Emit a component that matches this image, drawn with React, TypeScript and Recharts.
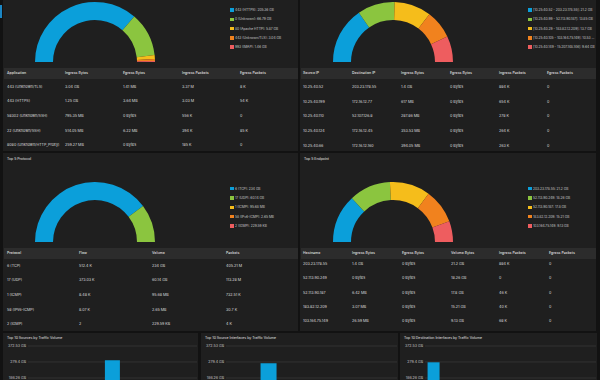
import React from "react";
import { PieChart, Pie, Cell, BarChart, Bar, XAxis, YAxis, CartesianGrid } from "recharts";

// ─── Data ─────────────────────────────────────────────────────────────────────

const SLICE_COLORS = ["#0b9fda", "#8bc53f", "#f5bd1b", "#f1821e", "#ee5d5f"];

// Top 5 Application (semi donut, GB)
const APP_NAMES = ["443 (HTTPS)", "0 (Unknown)", "80 (Apache HTTP)", "443 (Unknown/TLS)", "993 (IMAP)"];
const APP_GB = [205.36, 66.79, 5.87, 3.04, 1.46];
const APP_LABELS = ["205.36 GB", "66.79 GB", "5.87 GB", "3.04 GB", "1.46 GB"];

const APP_HEADERS = ["Application", "Ingress Bytes", "Egress Bytes", "Ingress Packets", "Egress Packets"];
const APP_ROWS = [
  ["443 (Unknown/TLS)", "3.04 GB", "1.41 MB", "3.37 M", "8 K"],
  ["443 (HTTPS)", "1.25 GB", "3.64 MB", "3.03 M", "54 K"],
  ["58302 (Unknown/SSH)", "795.35 MB", "0 Bytes", "556 K", "0"],
  ["22 (Unknown/SSH)", "514.05 MB", "6.22 MB", "394 K", "85 K"],
  ["8080 (Unknown/HTTP_Proxy)", "259.27 MB", "0 Bytes", "185 K", "0"],
];

// Top 5 Conversation
const CONV_NAMES = [
  "[10.25.40.52 - 203.23.178.55]",
  "[10.25.40.99 - 52.113.90.187]",
  "[10.25.40.29 - 183.82.12.209]",
  "[10.25.40.105 - 103.164.75.149]",
  "[10.25.40.149 - 15.207.148.146]",
];
const CONV_GB = [21.2, 13.85, 13.7, 10.53, 9.64];
const CONV_LABELS = ["21.2 GB", "13.85 GB", "13.7 GB", "10.53 GB", "9.64 GB"];

const CONV_HEADERS = ["Source IP", "Destination IP", "Ingress Bytes", "Egress Bytes", "Ingress Packets", "Egress Packets"];
const CONV_ROWS = [
  ["10.25.40.52", "203.23.178.55", "1.4 GB", "0 Bytes", "884 K", "0"],
  ["10.25.40.199", "172.16.12.77", "617 MB", "0 Bytes", "654 K", "0"],
  ["10.25.40.110", "52.107.126.8", "287.86 MB", "0 Bytes", "278 K", "0"],
  ["10.25.40.124", "172.16.12.45", "353.53 MB", "0 Bytes", "264 K", "0"],
  ["10.25.40.66", "172.16.12.160", "394.05 MB", "0 Bytes", "263 K", "0"],
];

// Top 5 Protocol
const PROTO_NAMES = ["6 (TCP)", "17 (UDP)", "1 (ICMP)", "58 (IPv6-ICMP)", "2 (IGMP)"];
const PROTO_GB = [234, 60.14, 0.09568, 0.00265, 0.00023];
const PROTO_LABELS = ["234 GB", "60.14 GB", "95.68 MB", "2.65 MB", "229.59 KB"];

const PROTO_HEADERS = ["Protocol", "Flow", "Volume", "Packets"];
const PROTO_ROWS = [
  ["6 (TCP)", "512.4 K", "234 GB", "405.21 M"],
  ["17 (UDP)", "373.03 K", "60.14 GB", "113.28 M"],
  ["1 (ICMP)", "8.48 K", "95.68 MB", "732.51 K"],
  ["58 (IPv6-ICMP)", "8.07 K", "2.65 MB", "30.7 K"],
  ["2 (IGMP)", "2", "229.59 KB", "4 K"],
];

// Top 5 Endpoint
const HOST_NAMES = ["203.23.178.55", "52.113.90.249", "52.113.90.187", "183.82.12.209", "103.164.75.149"];
const HOST_GB = [21.2, 18.26, 17.8, 15.21, 9.13];
const HOST_LABELS = ["21.2 GB", "18.26 GB", "17.8 GB", "15.21 GB", "9.13 GB"];

const HOST_HEADERS = ["Hostname", "Ingress Bytes", "Egress Bytes", "Volume Bytes", "Ingress Packets", "Egress Packets"];
const HOST_ROWS = [
  ["203.23.178.55", "1.4 GB", "0 Bytes", "21.2 GB", "884 K", "0"],
  ["52.113.90.249", "0 Bytes", "0 Bytes", "18.26 GB", "0", "0"],
  ["52.113.90.187", "6.42 MB", "0 Bytes", "17.8 GB", "46 K", "0"],
  ["183.82.12.209", "3.07 MB", "0 Bytes", "15.21 GB", "40 K", "0"],
  ["103.164.75.149", "26.59 MB", "0 Bytes", "9.13 GB", "68 K", "0"],
];

// Top 10 bar charts (GB)
const VOLUME_TICKS = [0, 93.13, 186.26, 279.4, 372.53];

const SRC_NAMES = ["10.25.40.52"];
const SRC_GB = [289.6];

const SRC_IF_NAMES = ["ifIndex 2", "ifIndex 1"];
const SRC_IF_GB = [272.3, 21.8];

const DST_IF_NAMES = ["if 3", "if 1", "if 4", "if 2", "if 6", "if 5", "if 8", "if 7", "if 10", "if 9"];
const DST_IF_GB = [277.6, 9.4, 3.1, 1.8, 0.9, 0.6, 0.4, 0.3, 0.2, 0.1];

// ─── Styles ───────────────────────────────────────────────────────────────────

const FONT = "Inter, 'Noto Sans', sans-serif";
const PANEL_BG = "#1f1f1f";
const PAGE_BG = "#121212";
const HEADER_BG = "#2c2c2c";

// ─── Pieces ───────────────────────────────────────────────────────────────────

function Panel({ left, top, width, height }: { left: number; top: number; width: number; height: number }) {
  return <div style={{ position: "absolute", left, top, width, height, background: PANEL_BG }} />;
}

function Text({ x, y, size, color = "#d6d6d6", weight = 400, children, maxWidth }: any) {
  return (
    <div
      style={{
        position: "absolute",
        left: x,
        top: y - 5,
        height: 10,
        lineHeight: "10px",
        fontSize: size,
        color,
        fontWeight: weight,
        whiteSpace: "nowrap",
        overflow: maxWidth ? "hidden" : undefined,
        textOverflow: maxWidth ? "ellipsis" : undefined,
        width: maxWidth,
      }}
    >
      {children}
    </div>
  );
}

function SemiDonut({ left, top, cx, cy, names, values }: any) {
  const data = names.map((n: string, i: number) => ({ name: n, value: values[i] }));
  return (
    <div style={{ position: "absolute", left, top }}>
      <PieChart width={200} height={cy + 4} margin={{ top: 0, right: 0, bottom: 0, left: 0 }}>
        <Pie
          data={data}
          dataKey="value"
          nameKey="name"
          cx={cx}
          cy={cy}
          startAngle={180}
          endAngle={0}
          innerRadius={42}
          outerRadius={60}
          stroke="none"
          isAnimationActive={false}
        >
          {data.map((_: any, i: number) => (
            <Cell key={i} fill={SLICE_COLORS[i]} />
          ))}
        </Pie>
      </PieChart>
    </div>
  );
}

function DonutLegend({ x, y0, step, names, labels, maxWidth }: any) {
  return (
    <>
      {names.map((n: string, i: number) => (
        <React.Fragment key={n}>
          <div
            style={{
              position: "absolute",
              left: x,
              top: y0 + i * step - 1.8,
              width: 3.6,
              height: 3.6,
              background: SLICE_COLORS[i],
            }}
          />
          <Text x={x + 5} y={y0 + i * step} size={3.3} color="#c8c8c8" maxWidth={maxWidth}>
            {`${n}: ${labels[i]}`}
          </Text>
        </React.Fragment>
      ))}
    </>
  );
}

function DataTable({ left, width, bandTop, cols, headers, rows, firstRow, pitch }: any) {
  return (
    <>
      <div style={{ position: "absolute", left, top: bandTop, width, height: 10.5, background: HEADER_BG }} />
      {headers.map((h: string, c: number) => (
        <Text key={h} x={cols[c]} y={bandTop + 5.3} size={3.5} weight={600} color="#cfcfcf">
          {h}
        </Text>
      ))}
      {rows.map((r: string[], i: number) =>
        r.map((cell, c) => (
          <Text key={`${i}-${c}`} x={cols[c]} y={firstRow + i * pitch} size={3.7} color="#dcdcdc">
            {cell}
          </Text>
        ))
      )}
    </>
  );
}

const fmtVolume = (v: number) => (v === 0 ? "0 Bytes" : `${v} GB`);

function VolumeTick({ x, y, payload }: any) {
  return (
    <text x={x} y={y} dy={1.3} textAnchor="end" fontSize={3.6} fill="#c4c4c4" fontFamily={FONT}>
      {fmtVolume(payload.value)}
    </text>
  );
}

function VolumeBars({ left, width, title, names, values, maxBar, gap }: any) {
  const data = names.map((n: string, i: number) => ({ name: n, value: values[i] }));
  return (
    <>
      <Text x={left + 4} y={338} size={3.5} color="#e0e0e0">
        {title}
      </Text>
      <div style={{ position: "absolute", left, top: 340 }}>
        <BarChart
          width={width}
          height={84}
          data={data}
          margin={{ top: 6, right: 1, bottom: 14, left: 0 }}
          barCategoryGap={gap}
        >
          <CartesianGrid vertical={false} stroke="#333333" />
          <XAxis dataKey="name" hide />
          <YAxis
            width={25}
            domain={[0, 372.53]}
            ticks={VOLUME_TICKS}
            interval={0}
            tickSize={0}
            tickMargin={2}
            axisLine={false}
            tickLine={false}
            tick={<VolumeTick />}
          />
          <Bar dataKey="value" fill="#0b9fda" maxBarSize={maxBar} isAnimationActive={false} />
        </BarChart>
      </div>
    </>
  );
}

// ─── App ──────────────────────────────────────────────────────────────────────

export default function App() {
  return (
    <div
      style={{
        position: "fixed",
        left: 0,
        top: 0,
        width: 600,
        height: 380,
        overflow: "hidden",
        background: PAGE_BG,
        fontFamily: FONT,
      }}
    >
      {/* panels */}
      <Panel left={3} top={-5} width={295} height={156} />
      <Panel left={300} top={-5} width={296} height={156} />
      <Panel left={3} top={153} width={295} height={178} />
      <Panel left={300} top={153} width={296} height={178} />
      <Panel left={3} top={333} width={195} height={60} />
      <Panel left={201} top={333} width={197} height={60} />
      <Panel left={400} top={333} width={197} height={60} />
      <div style={{ position: "absolute", left: 0, top: 5, width: 2, height: 13, background: "#1b86c4" }} />

      {/* Top 5 Application */}
      <SemiDonut left={0} top={0} cx={95} cy={62} names={APP_NAMES} values={APP_GB} />
      <DonutLegend x={230} y0={10} step={9.3} names={APP_NAMES} labels={APP_LABELS} />
      <DataTable
        left={4}
        width={294}
        bandTop={68}
        cols={[7, 65, 123, 182, 240]}
        headers={APP_HEADERS}
        rows={APP_ROWS}
        firstRow={86.5}
        pitch={14.7}
      />

      {/* Top 5 Conversation */}
      <SemiDonut left={300} top={0} cx={93} cy={62} names={CONV_NAMES} values={CONV_GB} />
      <DonutLegend x={528} y0={10} step={9.3} names={CONV_NAMES} labels={CONV_LABELS} maxWidth={62} />
      <DataTable
        left={301}
        width={295}
        bandTop={68}
        cols={[303, 352, 401, 450, 499, 547]}
        headers={CONV_HEADERS}
        rows={CONV_ROWS}
        firstRow={87}
        pitch={14.7}
      />

      {/* Top 5 Protocol */}
      <Text x={7} y={159} size={3.5} color="#e6e6e6">
        Top 5 Protocol
      </Text>
      <SemiDonut left={0} top={175} cx={95} cy={67} names={PROTO_NAMES} values={PROTO_GB} />
      <DonutLegend x={230} y0={188.5} step={9.4} names={PROTO_NAMES} labels={PROTO_LABELS} />
      <DataTable
        left={4}
        width={294}
        bandTop={248}
        cols={[7, 79, 152, 226]}
        headers={PROTO_HEADERS}
        rows={PROTO_ROWS}
        firstRow={265.5}
        pitch={14.7}
      />

      {/* Top 5 Endpoint */}
      <Text x={304} y={159} size={3.5} color="#e6e6e6">
        Top 5 Endpoint
      </Text>
      <SemiDonut left={300} top={175} cx={93} cy={67} names={HOST_NAMES} values={HOST_GB} />
      <DonutLegend x={528} y0={188.5} step={9.4} names={HOST_NAMES} labels={HOST_LABELS} />
      <DataTable
        left={301}
        width={295}
        bandTop={248}
        cols={[303, 352, 402, 451, 499, 549]}
        headers={HOST_HEADERS}
        rows={HOST_ROWS}
        firstRow={264}
        pitch={14.3}
      />

      {/* Top 10 bars */}
      <VolumeBars left={3} width={195} title="Top 10 Sources by Traffic Volume" names={SRC_NAMES} values={SRC_GB} maxBar={15} gap="10%" />
      <VolumeBars left={201} width={197} title="Top 10 Source Interfaces by Traffic Volume" names={SRC_IF_NAMES} values={SRC_IF_GB} maxBar={16} gap="10%" />
      <VolumeBars left={400} width={197} title="Top 10 Destination Interfaces by Traffic Volume" names={DST_IF_NAMES} values={DST_IF_GB} maxBar={16} gap="15%" />
    </div>
  );
}
